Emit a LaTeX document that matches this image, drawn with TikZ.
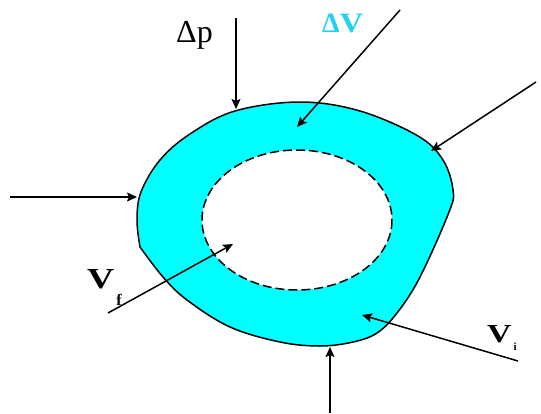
\documentclass[tikz,border=0pt]{standalone}
\usepackage{fontspec}
\setmainfont{Liberation Serif}
\usetikzlibrary{arrows.meta, calc}
\definecolor{Shell}  {HTML}{00FFFF}
\definecolor{DVCyan} {HTML}{22D0F0}
% subscript set low beside a big letter: #1 drop, #2 size, #3 text
\newcommand{\lowsub}[3]{\hspace{2pt}\raisebox{-#1}{\fontsize{#2}{#2}\selectfont\bfseries #3}}
\tikzset{
  arr/.style={
    -{Stealth[length=10pt,width=9pt,inset=2pt]},
    line width=1.5pt, color=black,
  },
  lbl/.style={
    font=\fontsize{32pt}{32pt}\selectfont, inner sep=0pt,
  },
  vlbl/.style={
    font=\fontsize{29pt}{29pt}\selectfont\bfseries, inner sep=0pt,
  },
  rim/.style={
    draw=black, fill=Shell, line width=1.5pt,
  },
  cavity/.style={
    draw=black, fill=white, line width=1.5pt,
    dash pattern=on 9pt off 4pt,
  },
}
\begin{document}
\begin{tikzpicture}[x=1pt,y=-1pt]
    \useasboundingbox (0,0) rectangle (541,413);

    % outer wall and inner cavity
    \draw[rim] plot[smooth,tension=0.6] coordinates {
      (140,247) (137,220) (141,192) (160,160) (190,134) (235,111)
      (300,102) (360,111) (418,136) (443,160) (453,190) (449,212)
      (420,277) (397,313) (377,333) (353,342) (320,346) (280,342)
      (230,327) (187,300) (163,277) (140,247)};
    \draw[cavity] (297,220) ellipse [x radius=95, y radius=70];

    % labels
    \node[lbl,anchor=base west] (dp) at (176,42) {Δp};
    \node[anchor=base west,inner sep=0pt,text=DVCyan,
          font=\fontsize{28pt}{28pt}\selectfont\bfseries]
                               (dv) at (322,32) {Δ\scalebox{1.15}[1]{V}};
    \node[vlbl,anchor=base west] (vf) at (87,288)
          {\scalebox{1.3}[1]{V}\lowsub{17pt}{16pt}{f}};
    \node[vlbl,anchor=base west,font=\fontsize{26pt}{26pt}\selectfont\bfseries]
          (vi) at (487,342) {\scalebox{1.3}[1]{V}\lowsub{8pt}{11pt}{i}};

    % loads and pointers
    \coordinate (top)   at (236,18);   \coordinate (topT)  at (236,109);
    \coordinate (ne)    at (536,82);   \coordinate (neT)   at (431,151);
    \coordinate (west)  at (10,197);   \coordinate (westT) at (137,197);
    \coordinate (bot)   at (330,413);  \coordinate (botT)  at (330,347);
    \coordinate (dvS)   at (400,10);   \coordinate (dvT)   at (297,127);
    \coordinate (vfS)   at (108,313);  \coordinate (vfT)   at (233,244);
    \coordinate (viS)   at (518,361);  \coordinate (viT)   at (362,315);

    \draw[arr] (top)--(topT);
    \draw[arr] (ne)--(neT);
    \draw[arr] (west)--(westT);
    \draw[arr] (bot)--(botT);
    \draw[arr] (dvS)--(dvT);
    \draw[arr] (vfS)--(vfT);
    \draw[arr] (viS)--(viT);
\end{tikzpicture}
\end{document}
